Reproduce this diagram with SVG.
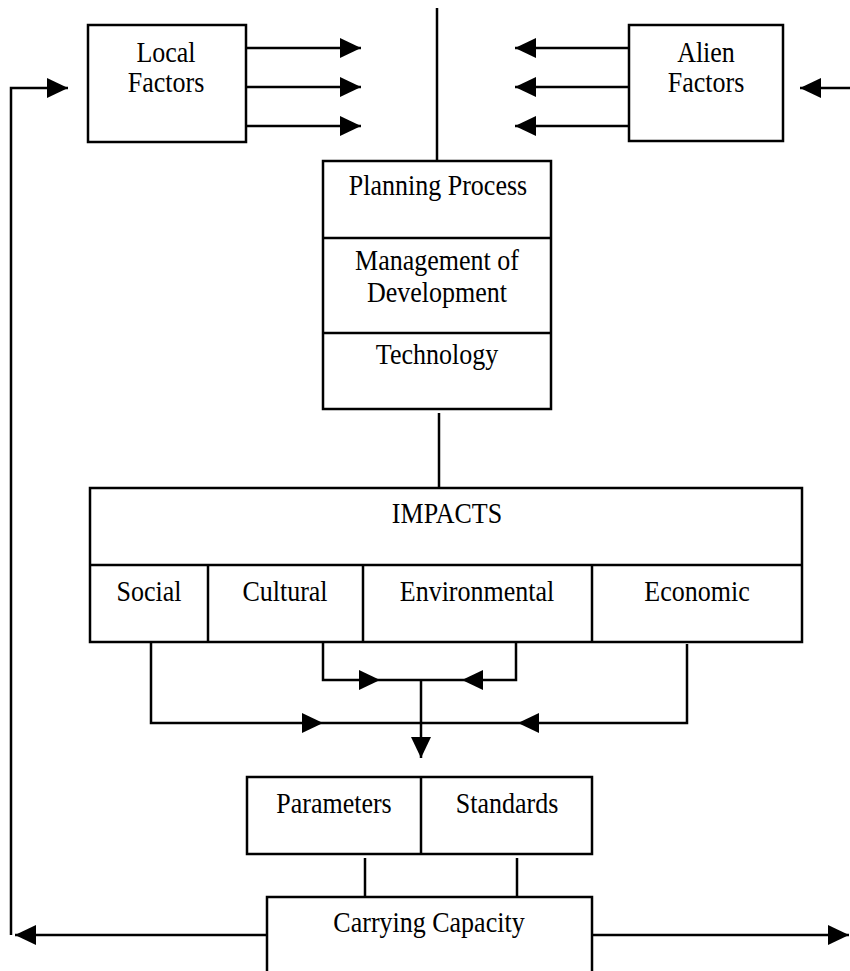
<svg xmlns="http://www.w3.org/2000/svg" width="850" height="971" viewBox="0 0 850 971">
  <style>
    .box { fill: #fff; stroke: #000; stroke-width: 2.5; }
    .div { stroke: #000; stroke-width: 2.5; fill: none; }
    .lbl { font-family: "Liberation Serif", "Times New Roman", serif; font-size: 26px; fill: #000; text-anchor: middle; }
    .wire { stroke: #000; stroke-width: 2.5; fill: none; }
    .head { marker-end: url(#arrow); }
  </style>
  <defs>
    <marker id="arrow" markerUnits="userSpaceOnUse" markerWidth="22" markerHeight="22" viewBox="0 0 22 22" refX="21" refY="11" orient="auto">
      <path d="M0,1 L21,11 L0,21 Z" fill="#000"/>
    </marker>
  </defs>

  <rect width="850" height="971" fill="#fff"/>

  <!-- connectors -->
  <g id="connectors">
    <!-- outgoing factor arrows -->
    <line class="wire head" x1="246" y1="48" x2="361" y2="48"/>
    <line class="wire head" x1="246" y1="87" x2="361" y2="87"/>
    <line class="wire head" x1="246" y1="126" x2="361" y2="126"/>
    <line class="wire head" x1="629" y1="48" x2="515" y2="48"/>
    <line class="wire head" x1="629" y1="87" x2="515" y2="87"/>
    <line class="wire head" x1="629" y1="126" x2="515" y2="126"/>
    <!-- inputs from the sides -->
    <polyline class="wire head" points="11,935 11,88 68,88"/>
    <line class="wire head" x1="850" y1="88" x2="800" y2="88"/>
    <!-- central spine -->
    <line class="wire" x1="437" y1="8" x2="437" y2="161"/>
    <line class="wire" x1="439" y1="413" x2="439" y2="488"/>
    <!-- impacts gathered -->
    <polyline class="wire head" points="151,642 151,723 323,723"/>
    <line class="wire" x1="323" y1="723" x2="421" y2="723"/>
    <polyline class="wire head" points="323,642 323,680 380,680"/>
    <line class="wire" x1="380" y1="680" x2="421" y2="680"/>
    <polyline class="wire head" points="516,642 516,680 462,680"/>
    <line class="wire" x1="462" y1="680" x2="421" y2="680"/>
    <polyline class="wire head" points="687,644 687,723 518,723"/>
    <line class="wire" x1="518" y1="723" x2="421" y2="723"/>
    <line class="wire head" x1="421" y1="680" x2="421" y2="758"/>
    <!-- parameters / standards to carrying capacity -->
    <line class="wire" x1="365" y1="858" x2="365" y2="897"/>
    <line class="wire" x1="517" y1="858" x2="517" y2="897"/>
    <!-- feedback outputs -->
    <line class="wire head" x1="267" y1="935" x2="15" y2="935"/>
    <line class="wire head" x1="592" y1="935" x2="849" y2="935"/>
  </g>

  <g id="local-factors">
    <rect class="box" x="88" y="25" width="158" height="117"/>
    <text class="lbl" transform="translate(166,62) scale(1,1.12)">Local</text>
    <text class="lbl" transform="translate(166,92) scale(1,1.12)">Factors</text>
  </g>

  <g id="alien-factors">
    <rect class="box" x="629" y="25" width="154" height="116"/>
    <text class="lbl" transform="translate(706,62) scale(1,1.12)">Alien</text>
    <text class="lbl" transform="translate(706,92) scale(1,1.12)">Factors</text>
  </g>

  <g id="process-stack">
    <rect class="box" x="323" y="161" width="228" height="248"/>
    <line class="div" x1="323" y1="238" x2="551" y2="238"/>
    <line class="div" x1="323" y1="333" x2="551" y2="333"/>
    <text class="lbl" transform="translate(438,195) scale(1,1.12)">Planning Process</text>
    <text class="lbl" transform="translate(437,270) scale(1,1.12)">Management of</text>
    <text class="lbl" transform="translate(437,302) scale(1,1.12)">Development</text>
    <text class="lbl" transform="translate(437,364) scale(1,1.12)">Technology</text>
  </g>

  <g id="impacts">
    <rect class="box" x="90" y="488" width="712" height="154"/>
    <line class="div" x1="90" y1="565" x2="802" y2="565"/>
    <line class="div" x1="208" y1="565" x2="208" y2="642"/>
    <line class="div" x1="363" y1="565" x2="363" y2="642"/>
    <line class="div" x1="592" y1="565" x2="592" y2="642"/>
    <text class="lbl" transform="translate(447,523) scale(1,1.12)">IMPACTS</text>
    <text class="lbl" transform="translate(149,601) scale(1,1.12)">Social</text>
    <text class="lbl" transform="translate(285,601) scale(1,1.12)">Cultural</text>
    <text class="lbl" transform="translate(477,601) scale(1,1.12)">Environmental</text>
    <text class="lbl" transform="translate(697,601) scale(1,1.12)">Economic</text>
  </g>

  <g id="parameters-standards">
    <rect class="box" x="247" y="777" width="345" height="77"/>
    <line class="div" x1="421" y1="777" x2="421" y2="854"/>
    <text class="lbl" transform="translate(334,813) scale(1,1.12)">Parameters</text>
    <text class="lbl" transform="translate(507,813) scale(1,1.12)">Standards</text>
  </g>

  <g id="carrying-capacity">
    <rect class="box" x="267" y="897" width="325" height="90"/>
    <text class="lbl" transform="translate(429,932) scale(1,1.12)">Carrying Capacity</text>
  </g>
</svg>
